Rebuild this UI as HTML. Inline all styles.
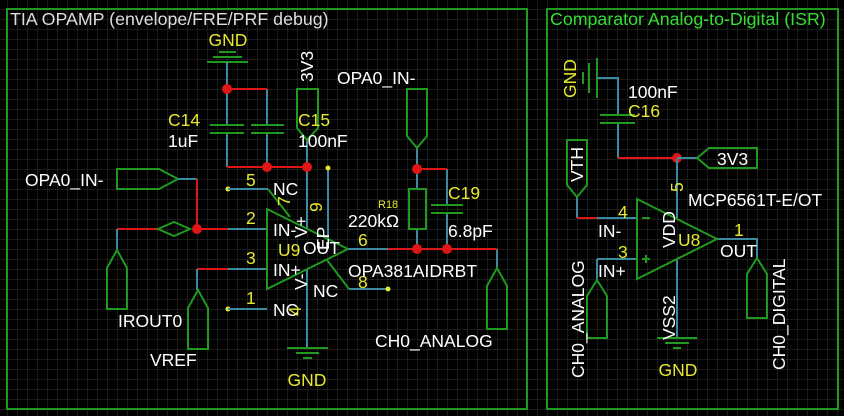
<!DOCTYPE html>
<html><head><meta charset="utf-8"><style>
html,body{margin:0;padding:0;background:#000;}
svg{display:block;font-family:"Liberation Sans",sans-serif;}
.w{stroke:#3a8aa0;stroke-width:2;fill:none}
.r{stroke:#e01515;stroke-width:2;fill:none}
.g{stroke:#1f9a1f;stroke-width:2;fill:none}
.t{fill:#fff;font-size:17.5px}
.y{fill:#e8e830;font-size:17.5px}
</style></head><body>
<svg width="844" height="416" viewBox="0 0 844 416">
<defs><pattern id="grid" x="7" y="9" width="10" height="10" patternUnits="userSpaceOnUse">
<path d="M0 0H10M0 0V10" stroke="#333" stroke-width="1" fill="none"/></pattern></defs>
<rect width="844" height="416" fill="#000"/>
<rect width="844" height="416" fill="url(#grid)"/>
<!-- frames -->
<rect x="7" y="9" width="520" height="400" class="g"/>
<rect x="547" y="9" width="291" height="400" class="g"/>
<text x="10" y="25" class="t" style="fill:#ddd;font-size:17.8px">TIA OPAMP (envelope/FRE/PRF debug)</text>
<text x="550" y="25" style="fill:#33e033;font-size:17.8px">Comparator Analog-to-Digital (ISR)</text>

<!-- LEFT: GND top -->
<text x="228" y="46" class="y" text-anchor="middle">GND</text>
<path class="g" d="M219 52H236M213 57H242M207 62H248"/>
<path class="w" d="M227 62V89M267 89V125M227 89V125M227 133V167M267 133V167M307 140V167M307 167V229M328 168V240"/>
<path class="r" d="M227 89H267M227 167H308"/>
<path class="g" d="M210 125H244M210 133H244M251 125H284M251 133H284"/>
<path class="g" d="M297 89H318V128L307 140L297 128Z"/>
<text transform="translate(313 82) rotate(-90)" class="t">3V3</text>
<text x="168" y="126" class="y">C14</text><text x="168" y="147" class="t">1uF</text>
<text x="298" y="126" class="y">C15</text><text x="298" y="147" class="t">100nF</text>
<circle cx="328" cy="168" r="2.5" fill="#e8e830"/>
<!-- OPA0_IN- left flag -->
<path class="g" d="M117 169H159L178 179L159 189H117Z"/>
<text x="25" y="186" class="t">OPA0_IN-</text>
<path class="w" d="M178 179H197"/>
<path class="r" d="M197 179V229M117 229H158M197 229H228M197 269H228"/>
<path class="g" d="M158 229L174 222L190 229L174 236Z"/>
<path class="w" d="M228 229H267M228 269H267M117 229V250M197 269V290"/>
<!-- IROUT0 -->
<path class="g" d="M117 250L127 268V309H107V268Z"/>
<text x="118" y="327" class="t">IROUT0</text>
<path class="g" d="M198 290L208 308V349H188V308Z"/>
<text x="150" y="366" class="t">VREF</text>
<!-- NC pins -->
<circle cx="228" cy="189" r="2.5" fill="#e8e830"/><path class="w" d="M228 189H268"/>
<circle cx="228" cy="309" r="2.5" fill="#e8e830"/><path class="w" d="M228 309H267"/>
<path class="g" d="M268 189L290 217M327 260L349 289"/>
<path class="w" d="M349 289H388"/><circle cx="388" cy="289" r="2.5" fill="#e8e830"/>
<!-- opamp U9 -->
<path class="g" d="M267 209L348 249L267 289Z"/>
<path class="w" d="M307 270V348"/>
<path class="g" d="M287 348H328M296 353H319M303 358H312"/>
<text x="307" y="386" class="y" text-anchor="middle">GND</text>
<text x="246" y="186" class="y">5</text><text x="246" y="224" class="y">2</text>
<text x="246" y="264" class="y">3</text><text x="246" y="304" class="y">1</text>
<text x="273" y="195" class="t">NC</text>
<text x="273" y="236" class="t">IN-</text>
<text x="273" y="276" class="t">IN+</text>
<text x="273" y="316" class="t">NC</text>
<text x="313" y="297" class="t">NC</text>
<text transform="translate(290 206) rotate(-90)" class="y">7</text>
<text transform="translate(322 212) rotate(-90)" class="y">9</text>
<text transform="translate(307 238) rotate(-90)" class="t">V+</text>
<text transform="translate(329 250) rotate(-90)" class="t">EP</text>
<text transform="translate(307 290) rotate(-90)" class="t">V-</text>
<text transform="translate(301 316) rotate(-90)" class="y">4</text>
<text x="278" y="256" class="y">U9</text>
<text x="303" y="254" class="t">OUT</text>
<text x="358" y="246" class="y">6</text>
<text x="358" y="288" class="y">8</text>
<text x="348" y="277" class="t">OPA381AIDRBT</text>
<!-- output -->
<path class="w" d="M348 249H388M497 249V268M417 169V189M417 229V249M447 169V205M447 213V249M417 148V169"/>
<path class="r" d="M388 249H497M417 169H447"/>
<rect x="409" y="189" width="17" height="40" class="g"/>
<path class="g" d="M431 205H463M431 213H463"/>
<path class="g" d="M407 89H427V136L417 148L407 136Z"/>
<text x="337" y="84" class="t">OPA0_IN-</text>
<text x="378" y="208" style="fill:#e8e830;font-size:11px">R18</text>
<text x="348" y="227" class="t">220kΩ</text>
<text x="448" y="199" class="y">C19</text>
<text x="448" y="237" class="t">6.8pF</text>
<path class="g" d="M497 268L507 286V329H487V286Z"/>
<text x="375" y="347" class="t">CH0_ANALOG</text>
<g fill="#e01515">
<circle cx="227" cy="89" r="5"/><circle cx="267" cy="167" r="5"/><circle cx="307" cy="167" r="5"/>
<circle cx="197" cy="229" r="5"/><circle cx="417" cy="249" r="5"/><circle cx="447" cy="249" r="5"/>
<circle cx="417" cy="169" r="5"/><circle cx="677" cy="158" r="5"/>
</g>

<!-- RIGHT -->
<text transform="translate(576 98) rotate(-90)" class="y">GND</text>
<path class="g" d="M583 72V84M589 63V93M597 58V98"/>
<path class="w" d="M597 78H618V115M618 123V158M677 158V218M677 259V338M597 259V280M577 197V218M597 218H637M597 259H637M677 158H697M717 239H757V258"/>
<path class="r" d="M618 158H677M577 218H597"/>
<path class="g" d="M600 115H635M600 123H635"/>
<text x="628" y="98" class="t">100nF</text>
<text x="628" y="117" class="y">C16</text>
<path class="g" d="M697 158L709 148H757V168H709Z"/>
<text x="717" y="165" class="t">3V3</text>
<path class="g" d="M567 140H587V185L577 197L567 185Z"/>
<text transform="translate(583 182) rotate(-90)" class="t">VTH</text>
<path class="g" d="M637 199L717 239L637 279Z"/>
<path class="g" d="M642 218H650M642 259H650M646 255V263"/>
<text x="618" y="218" class="y">4</text><text x="598" y="237" class="t">IN-</text>
<text x="618" y="258" class="y">3</text><text x="598" y="277" class="t">IN+</text>
<text transform="translate(683 192) rotate(-90)" class="y">5</text>
<text transform="translate(675 248) rotate(-90)" class="t">VDD</text>
<text x="678" y="246" class="y">U8</text>
<text x="688" y="206" class="t">MCP6561T-E/OT</text>
<text x="734" y="236" class="y">1</text>
<text x="720" y="257" class="t">OUT</text>
<path class="g" d="M597 280L607 296V338H587V296Z"/>
<text transform="translate(584 378) rotate(-90)" class="t">CH0_ANALOG</text>
<path class="g" d="M657 338H697M665 343H689M673 348H681"/>
<text transform="translate(675 340) rotate(-90)" class="t">VSS2</text>
<text x="678" y="376" class="y" text-anchor="middle">GND</text>
<path class="g" d="M757 258L767 274V318H747V274Z"/>
<text transform="translate(785 370) rotate(-90)" class="t">CH0_DIGITAL</text>
</svg>
</body></html>
